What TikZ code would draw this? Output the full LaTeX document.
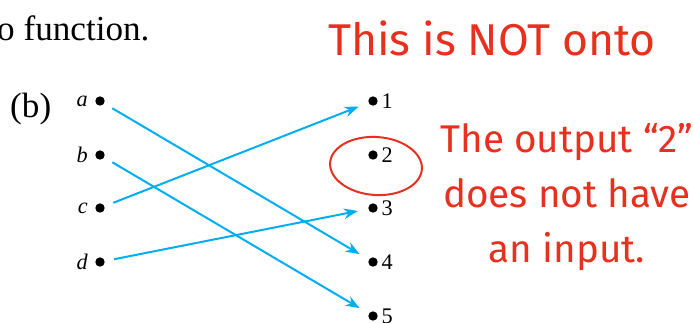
\documentclass[tikz,border=0pt]{standalone}
\usepackage{fontspec}
\setmainfont{Liberation Serif}
\newfontfamily\handfont{Fira Sans}
\usetikzlibrary{arrows.meta}
\definecolor{mapcyan}{RGB}{0,174,239}
\definecolor{pen}{RGB}{232,48,30}
\begin{document}
\begin{tikzpicture}[x=0.03cm, y=-0.03cm]
            \useasboundingbox (0,0) rectangle (693,322);
            {
                \tikzset{every node/.style = {shape=circle, fill, inner sep=0pt, minimum size=8pt},
                         every label/.style = {fill=none, shape=rectangle, inner sep=1pt, font=\fontsize{19}{19}\selectfont}}

                \node[label={[label distance=5pt]left:\textit{a}}] (a) at (100, 101) {};
                \node[label={[label distance=5pt]left:\textit{b}}] (b) at (100, 155) {};
                \node[label={[label distance=5pt]left:\textit{c}}] (c) at (100, 208) {};
                \node[label={[label distance=5pt]left:\textit{d}}] (d) at (100, 262) {};

                \node[label={[label distance=2pt]right:1}] (1) at (373, 101) {};
                \node[label={[label distance=2pt]right:2}] (2) at (373, 155) {};
                \node[label={[label distance=2pt]right:3}] (3) at (373, 208) {};
                \node[label={[label distance=2pt]right:4}] (4) at (373, 262) {};
                \node[label={[label distance=2pt]right:5}] (5) at (373, 316) {};
            }

            \tikzset{every edge/.style = {draw=mapcyan, line width=1.7pt, shorten <=8pt, shorten >=9pt,
                                          -{Stealth[length=12pt, width=9pt]}}}
            \draw (a) edge (4);
            \draw (b) edge (5);
            \draw (c) edge (1);
            \draw (d) edge (3);

            % book text
            \node[anchor=base west, inner sep=0pt, font=\fontsize{30}{30}\selectfont] (fun) at (-3, 40) {o function.};
            \node[anchor=base west, inner sep=0pt, font=\fontsize{30}{30}\selectfont] (part) at (10, 117) {(b)};

            % red notes
            \draw[pen, line width=1.7pt, rotate around={-4:(376,166)}] (376, 166) ellipse (46 and 29);
            \node[pen, font=\handfont\fontsize{38}{38}\selectfont, inner sep=0pt] (note) at (492, 38) {This is NOT onto};
            \node[pen, font=\handfont\fontsize{33}{47}\selectfont, align=center, inner sep=0pt] (why) at (567, 197)
                {The output “2”\\does not have\\an input.};

        \end{tikzpicture}
\end{document}
